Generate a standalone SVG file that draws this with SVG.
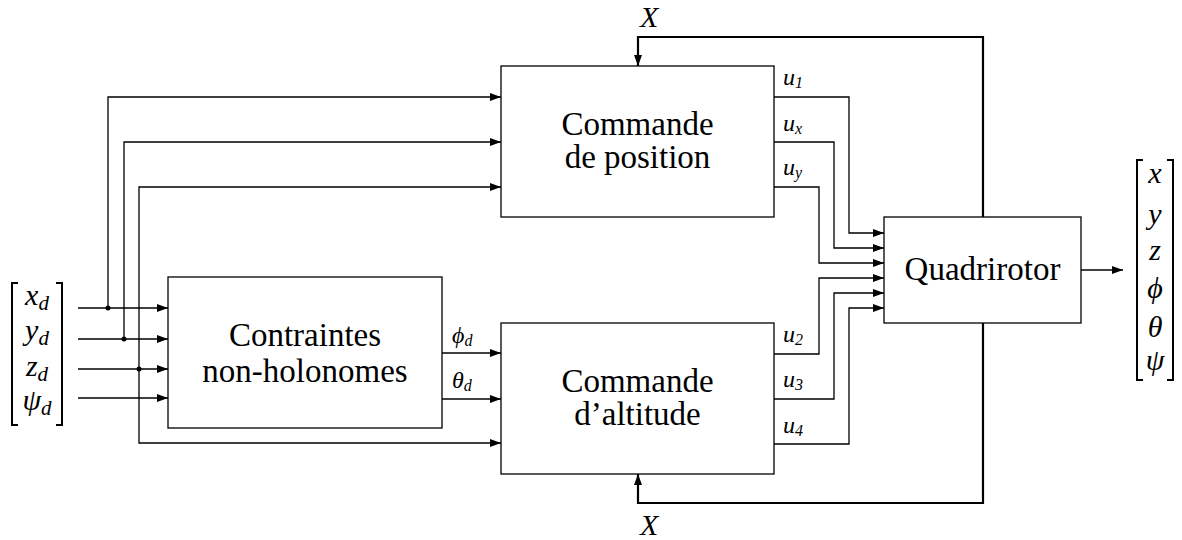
<svg xmlns="http://www.w3.org/2000/svg" width="1182" height="540" viewBox="0 0 1182 540">
<style>
.box{fill:#fff;stroke:#000;stroke-width:1.3}
text{font-family:'Liberation Serif','DejaVu Serif','Times New Roman',serif;fill:#000}
.t{font-size:33px;text-anchor:middle}
.m{font-style:italic}
.mv{font-size:30px;text-anchor:middle}
.ml{font-size:24px}
.w{fill:none;stroke:#000;stroke-width:1.3}
.fb{fill:none;stroke:#000;stroke-width:2.2}
.br{fill:none;stroke:#000;stroke-width:2}
</style>
<defs>
<marker id="a" markerUnits="userSpaceOnUse" markerWidth="11" markerHeight="8" refX="11" refY="4" orient="auto"><path d="M0,0 L11,4 L0,8 z" fill="#000"/></marker>
</defs>
<g id="connectors">
<path class="w" d="M78,308 H168" marker-end="url(#a)"/>
<path class="w" d="M78,339 H168" marker-end="url(#a)"/>
<path class="w" d="M78,369 H168" marker-end="url(#a)"/>
<path class="w" d="M78,398 H168" marker-end="url(#a)"/>
<path class="w" d="M108,308 V97 H501" marker-end="url(#a)"/>
<path class="w" d="M124,339 V142 H501" marker-end="url(#a)"/>
<path class="w" d="M139,369 V187 H501" marker-end="url(#a)"/>
<path class="w" d="M139,369 V443 H501" marker-end="url(#a)"/>
<circle cx="108" cy="308" r="2.5"/>
<circle cx="124" cy="339" r="2.5"/>
<circle cx="139" cy="369" r="2.5"/>
<path class="w" d="M442,353 H501" marker-end="url(#a)"/>
<path class="w" d="M442,399 H501" marker-end="url(#a)"/>
<path class="w" d="M774,97 H849 V233 H884" marker-end="url(#a)"/>
<path class="w" d="M774,142 H834 V248 H884" marker-end="url(#a)"/>
<path class="w" d="M774,187 H819 V263 H884" marker-end="url(#a)"/>
<path class="w" d="M774,354 H819 V278 H884" marker-end="url(#a)"/>
<path class="w" d="M774,399 H834 V293 H884" marker-end="url(#a)"/>
<path class="w" d="M774,444 H849 V308 H884" marker-end="url(#a)"/>
<path class="w" d="M1081,270 H1123" marker-end="url(#a)"/>
<path class="fb" d="M983,217 V37 H638 V66" marker-end="url(#a)"/>
<path class="fb" d="M983,323 V503 H638 V474" marker-end="url(#a)"/>
</g>
<g id="pos"><rect class="box" x="501" y="66" width="273" height="151"/><text class="t" x="637.5" y="135">Commande</text><text class="t" x="637.5" y="168">de position</text></g>
<g id="cnh"><rect class="box" x="168" y="277" width="274" height="151"/><text class="t" x="305" y="346">Contraintes</text><text class="t" x="305" y="382">non-holonomes</text></g>
<g id="alt"><rect class="box" x="501" y="323" width="273" height="151"/><text class="t" x="637.5" y="392">Commande</text><text class="t" x="637.5" y="425">d’altitude</text></g>
<g id="quad"><rect class="box" x="884" y="217" width="197" height="106"/><text class="t" x="982.5" y="280">Quadrirotor</text></g>
<g id="input">
<path class="br" d="M18,283 H12 V425 H18 M56,283 H62 V425 H56"/>
<text class="m mv" x="37" y="305">x<tspan font-size="21" dy="5">d</tspan></text>
<text class="m mv" x="37" y="340">y<tspan font-size="21" dy="5">d</tspan></text>
<text class="m mv" x="37" y="376">z<tspan font-size="21" dy="5">d</tspan></text>
<text class="m mv" x="37" y="410">ψ<tspan font-size="21" dy="5">d</tspan></text>
</g>
<g id="output">
<path class="br" d="M1143,160 H1137 V380 H1143 M1167,160 H1173 V380 H1167"/>
<text class="m mv" x="1155" y="183">x</text>
<text class="m mv" x="1155" y="224">y</text>
<text class="m mv" x="1155" y="260">z</text>
<text class="m mv" x="1155" y="298">ϕ</text>
<text class="m mv" x="1155" y="337">θ</text>
<text class="m mv" x="1155" y="370">ψ</text>
</g>
<g id="labels">
<text class="m ml" x="783" y="85">u<tspan font-size="16" dy="3">1</tspan></text>
<text class="m ml" x="783" y="131">u<tspan font-size="16" dy="3">x</tspan></text>
<text class="m ml" x="783" y="175">u<tspan font-size="16" dy="3">y</tspan></text>
<text class="m ml" x="783" y="342">u<tspan font-size="16" dy="3">2</tspan></text>
<text class="m ml" x="783" y="387">u<tspan font-size="16" dy="3">3</tspan></text>
<text class="m ml" x="783" y="433">u<tspan font-size="16" dy="3">4</tspan></text>
<text class="m ml" x="452" y="343">ϕ<tspan font-size="16" dy="3">d</tspan></text>
<text class="m ml" x="452" y="388">θ<tspan font-size="16" dy="3">d</tspan></text>
<text class="m" font-size="30" x="640" y="27">X</text>
<text class="m" font-size="30" x="640" y="535">X</text>
</g>
</svg>
